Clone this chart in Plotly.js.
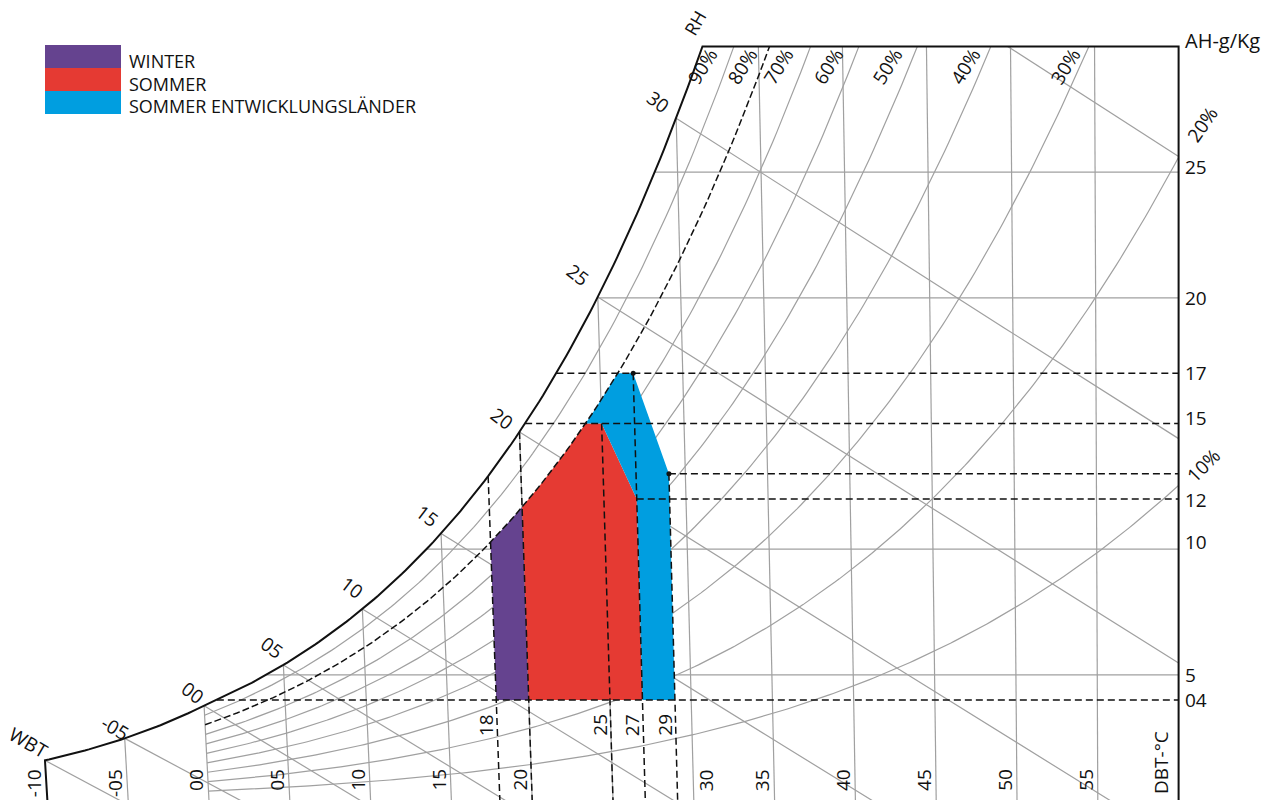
<!DOCTYPE html>
<html><head><meta charset="utf-8">
<script src="https://cdn.plot.ly/plotly-3.0.1.min.js"></script>
<style>html,body{margin:0;padding:0;background:#fff;overflow:hidden}#chart{width:1279px;height:800px}</style>
</head><body><div id="chart"></div>
<script>
// ---------------- data ----------------
const dbtGrid      = [-5, 0, 5, 10, 15, 20, 25, 30, 35, 40, 45, 50, 55];
const dbtLabelVals = [-10, -5, 0, 5, 10, 15, 20, 30, 35, 40, 45, 50, 55];
const dbtLabelText = ['-10', '-05', '00', '05', '10', '15', '20', '30', '35', '40', '45', '50', '55'];
const wbtGrid      = [-10, -5, 0, 5, 10, 15, 20, 25, 30, 35];
const wbtLabelVals = [-5, 0, 5, 10, 15, 20, 25, 30];
const wbtLabelText = ['-05', '00', '05', '10', '15', '20', '25', '30'];
const rhGrid       = [10, 20, 30, 40, 50, 60, 70, 90];
const rhDashed     = 80;
const rhTopLabels  = ['90%', '80%', '70%', '60%', '50%', '40%', '30%'];
const ahGrid       = [5, 10, 20, 25];
const ahLabelVals  = [25, 20, 17, 15, 12, 10, 5, 4];
const ahLabelText  = ['25', '20', '17', '15', '12', '10', '5', '04'];
const ahDashedFull = [4, 15, 17];            // dashed from saturation curve
const ahDashedFrom = [[12, 27], [13, 29]];   // [AH, starting DBT]
const dbtDashedSat = [18, 20];               // dashed from saturation curve
const dbtDashedFrom = [[25, 15], [27, 17], [29, 13]]; // [DBT, starting AH]
const dbtDashedLabels = ['18', '25', '27', '29'];
const dotsDBT = [27, 29];
const dotsAH  = [17, 13];
const zoneNames = ['WINTER', 'SOMMER', 'SOMMER ENTWICKLUNGSLÄNDER'];
// null AH => point on RH 80% curve at that DBT; null DBT => point on RH 80% curve at that AH
const winterDBT = [18, 20, 20, 18];
const winterAH  = [4, 4, null, null];
const summerDBT = [20, 27, 27, 25, null, 20];
const summerAH  = [4, 4, 12, 15, 15, null];
const devDBT    = [27, 29, 29, 27, null, null, 25, 27];
const devAH     = [4, 4, 13, 17, 17, 15, 15, 12];

// ---------------- styles / layout constants ----------------
const W = 1279, H = 800;
const COL = {winter: '#65438f', summer: '#e53a33', dev: '#009ee0', grid: '#a0a0a0', ink: '#111'};
const FONT = '"Open Sans", "Noto Sans", sans-serif';
const PX0 = 209, PXU = 16.16;     // px of DBT 0 at AH 0, px per degree
const PY0 = 800.6, PYU = 25.14;   // px of AH 0, px per g/kg
const SKEW = 1.3 / PXU;           // DBT-line lean per g/kg at 0 °C
const TMIN = -10, TMAX = 60, WTOP = 30, P = 101.325;

// ---------------- psychrometrics ----------------
function psat(T){ return T >= 0 ? 0.61094*Math.exp(17.625*T/(T+243.04)) : 0.61115*Math.exp(22.452*T/(272.55+T)); }
function wRH(T, rh){ const p = rh/100*psat(T); return 622*p/(P-p); }
function wSat(T){ return wRH(T, 100); }
function bisect(f, lo, hi){ // f increasing
  for (let i = 0; i < 80; i++){ const m = (lo+hi)/2; if (f(m) < 0) lo = m; else hi = m; }
  return (lo+hi)/2;
}
function tRH(w, rh){ return bisect(T => wRH(T, rh) - w, -30, 90); }
function tSat(w){ return tRH(w, 100); }
function wWB(T, Tw){
  const Ws = wSat(Tw)/1000;
  let w;
  if (Tw >= 0) w = ((2501 - 2.326*Tw)*Ws - 1.006*(T-Tw)) / (2501 + 1.86*T - 4.186*Tw);
  else w = ((2830 - 0.24*Tw)*Ws - 1.006*(T-Tw)) / (2830 + 1.86*T - 2.1*Tw);
  return w*1000;
}
function cx(T, w){ return T - SKEW*(1 - T/60)*w; }   // chart x for (DBT, AH)

// ---------------- builders ----------------
const grey = {x: [], y: []};
function addSeg(tr, pts){ pts.forEach(p => { tr.x.push(cx(p[0], p[1])); tr.y.push(p[1]); }); tr.x.push(null); tr.y.push(null); }
function rhCurve(rh, t0){
  const tEnd = Math.min(TMAX, tRH(WTOP, rh));
  const pts = [];
  for (let T = t0; T < tEnd; T += 0.25) pts.push([T, wRH(T, rh)]);
  pts.push([tEnd, wRH(tEnd, rh)]);
  return pts;
}
rhGrid.forEach(rh => addSeg(grey, rhCurve(rh, 0)));
wbtGrid.forEach(Tw => {
  let t0 = Tw;
  if (wSat(Tw) > WTOP) t0 = bisect(T => WTOP - wWB(T, Tw), Tw, 90);
  let t1 = bisect(T => -wWB(T, Tw), Tw, 120);
  t1 = Math.min(t1, TMAX);
  const pts = [];
  for (let i = 0; i <= 20; i++){ const T = t0 + (t1-t0)*i/20; pts.push([T, Math.max(wWB(T, Tw), -0.2)]); }
  addSeg(grey, pts);
});
dbtGrid.forEach(T => {
  const wTop = Math.min(wSat(T), WTOP);
  addSeg(grey, [[T, wTop], [T, -0.3]]);
});
ahGrid.forEach(w => addSeg(grey, [[tSat(w), w], [TMAX, w]]));

const dash = {x: [], y: []};
ahDashedFull.forEach(w => addSeg(dash, [[tSat(w), w], [TMAX, w]]));
ahDashedFrom.forEach(a => addSeg(dash, [[a[1], a[0]], [TMAX, a[0]]]));
dbtDashedSat.forEach(T => addSeg(dash, [[T, wSat(T)], [T, -0.3]]));
dbtDashedFrom.forEach(a => addSeg(dash, [[a[0], a[1]], [a[0], -0.3]]));

const rh80 = {x: [], y: []};
addSeg(rh80, rhCurve(rhDashed, 0));

const black = {x: [], y: []};
{ // saturation curve + top + right + left borders
  const tTop = tSat(WTOP);
  const pts = [[TMIN, -0.3]];
  for (let T = TMIN; T < tTop; T += 0.25) pts.push([T, wSat(T)]);
  pts.push([tTop, WTOP], [TMAX, WTOP], [TMAX, -0.3]);
  addSeg(black, pts);
}

function zonePath(Ts, Ws){
  const n = Ts.length;
  const pts = Ts.map((t, i) => {
    let T = t, w = Ws[i];
    if (w === null) w = wRH(T, rhDashed);
    if (T === null) T = tRH(w, rhDashed);
    return [T, w];
  });
  const onC = Ts.map((t, i) => t === null || Ws[i] === null);
  const out = {x: [], y: []};
  for (let i = 0; i < n; i++){
    const j = (i+1) % n;
    out.x.push(cx(pts[i][0], pts[i][1])); out.y.push(pts[i][1]);
    if (onC[i] && onC[j]){
      const a = pts[i][0], b = pts[j][0];
      for (let k = 1; k < 20; k++){ const T = a + (b-a)*k/20; const w = wRH(T, rhDashed); out.x.push(cx(T, w)); out.y.push(w); }
    }
  }
  return out;
}

const traces = [];
traces.push({type: 'scatter', mode: 'lines', x: grey.x, y: grey.y, line: {color: COL.grid, width: 1.2}, hoverinfo: 'skip'});
[[winterDBT, winterAH, COL.winter, zoneNames[0]], [summerDBT, summerAH, COL.summer, zoneNames[1]], [devDBT, devAH, COL.dev, zoneNames[2]]].forEach(z => {
  const p = zonePath(z[0], z[1]);
  traces.push({type: 'scatter', mode: 'lines', x: p.x, y: p.y, fill: 'toself', fillcolor: z[2], line: {width: 0, color: z[2]}, name: z[3], hoverinfo: 'name'});
});
traces.push({type: 'scatter', mode: 'lines', x: dash.x, y: dash.y, line: {color: COL.ink, width: 1.5, dash: '7px,4px'}, hoverinfo: 'skip'});
traces.push({type: 'scatter', mode: 'lines', x: rh80.x, y: rh80.y, line: {color: COL.ink, width: 1.5, dash: '7px,3px'}, hoverinfo: 'skip'});
traces.push({type: 'scatter', mode: 'lines', x: black.x, y: black.y, line: {color: COL.ink, width: 2}, hoverinfo: 'skip'});
traces.push({type: 'scatter', mode: 'markers', x: dotsDBT.map((T, i) => cx(T, dotsAH[i])), y: dotsAH, marker: {color: COL.ink, size: 5}, hoverinfo: 'skip'});

// ---------------- annotations ----------------
const anns = [];
function ann(text, px, py, angle, size, xanchor){
  anns.push({text, x: px/W, y: 1 - py/H, xref: 'paper', yref: 'paper', showarrow: false,
    xanchor: xanchor || 'center', yanchor: 'middle', textangle: angle || 0,
    font: {family: FONT, size: size || 19, color: COL.ink}});
}
const pxOf = (T, w) => PX0 + PXU*cx(T, w);
const pyOf = w => PY0 - PYU*w;
// bottom DBT labels (label sits just left of its line, 30 sits right)
dbtLabelVals.forEach((T, i) => {
  const off = T === 30 ? 13 : -12;
  const yc = dbtLabelText[i].length > 2 ? 783 : 780;
  ann(dbtLabelText[i], pxOf(T, 0.8) + off, yc, -90, 19);
});
// dashed DBT labels
[18, 25, 27, 29].forEach((T, i) => ann(dbtDashedLabels[i], pxOf(T, 3) - 11, 725, -90, 19));
// AH labels on right
const ahLabelDy = {25: -5, 15: -6, 10: -7, 12: 1};
ahLabelVals.forEach((w, i) => ann(ahLabelText[i], 1183, pyOf(w) + (ahLabelDy[w] || 0), 0, 19, 'left'));
// WBT labels along saturation curve
const wbtLabelOff = [[-10, -10], [-11, -13], [-11, -17], [-10, -21], [-14, -17], [-17, -13], [-20, -22], [-18, -16]];
wbtLabelVals.forEach((T, i) => {
  const w = wSat(T);
  ann(wbtLabelText[i], pxOf(T, w) + wbtLabelOff[i][0], pyOf(w) + wbtLabelOff[i][1], T < 0 ? 30 : 37, 19);
});
ann('WBT', 29, 743, 30, 19);
// RH labels
const rhTopPx = [702, 742, 778, 828, 887, 965, 1065];
rhTopLabels.forEach((t, i) => ann(t, rhTopPx[i], 67, -58, 19));
ann('20%', 1202, 125, -55, 19);
ann('10%', 1203, 466, -45, 19);
ann('RH', 695, 23, -60, 18);
ann('AH-g/Kg', 1183, 40, 0, 20, 'left');
ann('DBT-°C', 1161, 763, -90, 19);
// legend
const legCols = [COL.winter, COL.summer, COL.dev];
const shapes = [];
legCols.forEach((c, i) => {
  shapes.push({type: 'rect', xref: 'paper', yref: 'paper', x0: 45/W, x1: 121/W,
    y0: 1 - (45 + 23*(i+1))/H, y1: 1 - (45 + 23*i)/H, fillcolor: c, line: {width: 0}});
  anns.push({text: zoneNames[i], x: 127/W, y: 1 - (61 + 22.5*i)/H, xref: 'paper', yref: 'paper', showarrow: false,
    xanchor: 'left', yanchor: 'middle', font: {family: FONT, size: 18, color: COL.ink}});
});

const layout = {
  width: W, height: H, margin: {l: 0, r: 0, t: 0, b: 0, pad: 0},
  paper_bgcolor: '#fff', plot_bgcolor: '#fff', showlegend: false,
  xaxis: {range: [-PX0/PXU, (W - PX0)/PXU], visible: false, fixedrange: true},
  yaxis: {range: [(PY0 - H)/PYU, PY0/PYU], visible: false, fixedrange: true},
  annotations: anns, shapes: shapes
};
Plotly.newPlot('chart', traces, layout, {displayModeBar: false, staticPlot: true});
</script></body></html>
